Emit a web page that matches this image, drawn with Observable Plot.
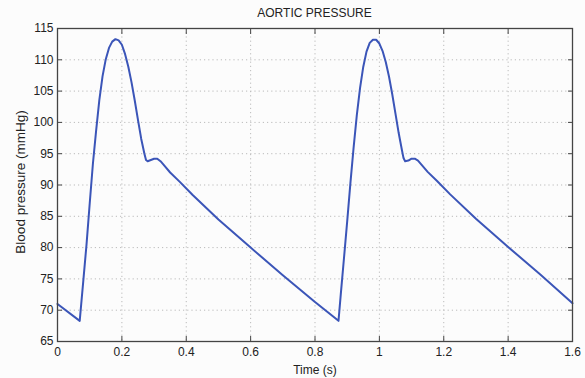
<!DOCTYPE html>
<html>
<head>
<meta charset="utf-8">
<script src="https://cdn.jsdelivr.net/npm/d3@7"></script>
<script src="https://cdn.jsdelivr.net/npm/@observablehq/plot@0.6"></script>
<style>
  body { margin: 0; background: #fcfcfc; font-family: "Liberation Sans", Arial, sans-serif; }
  #wrap { width: 585px; height: 378px; overflow: hidden; }
  #title { height: 20px; line-height: 26px; padding-left: 57px; padding-right: 13px; text-align: center; font-size: 12px; color: #222; }
</style>
</head>
<body>
<div id="wrap">
  <div id="title">AORTIC PRESSURE</div>
  <div id="chart"></div>
</div>
<script>
// Time (s)
const time = [
  0, 0.069, 0.08, 0.09, 0.10, 0.11, 0.12, 0.13, 0.14, 0.15, 0.16, 0.17, 0.18, 0.19, 0.20,
  0.21, 0.22, 0.23, 0.24, 0.25, 0.26, 0.27, 0.275, 0.28, 0.29, 0.30, 0.31, 0.32, 0.33, 0.35,
  0.38, 0.42, 0.5, 0.6, 0.7, 0.8,
  0.873, 0.88, 0.89, 0.90, 0.91, 0.92, 0.93, 0.94, 0.95, 0.96, 0.97, 0.98, 0.99, 1.00,
  1.01, 1.02, 1.03, 1.04, 1.05, 1.06, 1.07, 1.075, 1.08, 1.09, 1.10, 1.11, 1.12, 1.13, 1.15,
  1.18, 1.22, 1.3, 1.4, 1.5, 1.6
];
// Blood pressure (mmHg)
const pressure = [
  71.0, 68.3, 74.6, 80.4, 87.0, 93.4, 98.7, 103.6, 107.4, 110.1, 111.9, 112.9, 113.3, 113.1, 112.4,
  110.9, 108.9, 106.4, 103.5, 100.4, 97.4, 95.0, 94.0, 93.8, 94.0, 94.2, 94.2, 93.8, 93.2, 92.0,
  90.5, 88.4, 84.5, 80.0, 75.6, 71.3,
  68.3, 72.5, 78.3, 84.2, 90.3, 96.0, 101.2, 105.5, 108.9, 111.3, 112.7, 113.2, 113.2, 112.6,
  111.4, 109.6, 107.3, 104.5, 101.4, 98.3, 95.6, 94.3, 93.8, 93.9, 94.2, 94.2, 93.9, 93.3, 92.1,
  90.6, 88.5, 84.6, 80.1, 75.7, 71.1
];
const xTicks = [0, 0.2, 0.4, 0.6, 0.8, 1, 1.2, 1.4, 1.6];
const yTicks = [65, 70, 75, 80, 85, 90, 95, 100, 105, 110, 115];

const data = time.map((t, i) => ({t, p: pressure[i]}));
const fmt = d3.format("~g");
const blank = () => "";

const chart = Plot.plot({
  width: 585,
  height: 358,
  marginLeft: 57,
  marginRight: 13,
  marginTop: 8,
  marginBottom: 37,
  style: {fontFamily: "'Liberation Sans', Arial, sans-serif", fontSize: "12px", background: "transparent", color: "#222"},
  x: {domain: [0, 1.6]},
  y: {domain: [65, 115]},
  marks: [
    Plot.gridX(xTicks, {stroke: "#bbb", strokeOpacity: 1, strokeDasharray: "1.2,3"}),
    Plot.gridY(yTicks, {stroke: "#bbb", strokeOpacity: 1, strokeDasharray: "1.2,3"}),
    Plot.line(data, {x: "t", y: "p", stroke: "#3b55b8", strokeWidth: 2, strokeLinejoin: "round", curve: "linear"}),
    Plot.axisX(xTicks, {anchor: "bottom", tickSize: 0, tickPadding: 6, tickFormat: fmt, label: "Time (s)", labelAnchor: "center", labelArrow: "none", labelOffset: 32, fill: "#222"}),
    Plot.axisX(xTicks, {anchor: "bottom", tickSize: -5, tickFormat: blank, label: null, stroke: "#444"}),
    Plot.axisX(xTicks, {anchor: "top", tickSize: -5, tickFormat: blank, label: null, stroke: "#444"}),
    Plot.axisY(yTicks, {anchor: "left", tickSize: 0, tickPadding: 4, tickFormat: fmt, label: null, fill: "#222"}),
    Plot.axisY(yTicks, {anchor: "left", tickSize: -5, tickFormat: blank, label: null, stroke: "#444"}),
    Plot.axisY(yTicks, {anchor: "right", tickSize: -5, tickFormat: blank, label: null, stroke: "#444"}),
    Plot.text(["Blood pressure (mmHg)"], {frameAnchor: "left", textAnchor: "middle", rotate: -90, dx: -37, dy: -3, fontSize: 13.5, fill: "#222"}),
    Plot.frame({stroke: "#444", strokeWidth: 1.3})
  ]
});
document.getElementById("chart").appendChild(chart);
</script>
</body>
</html>
